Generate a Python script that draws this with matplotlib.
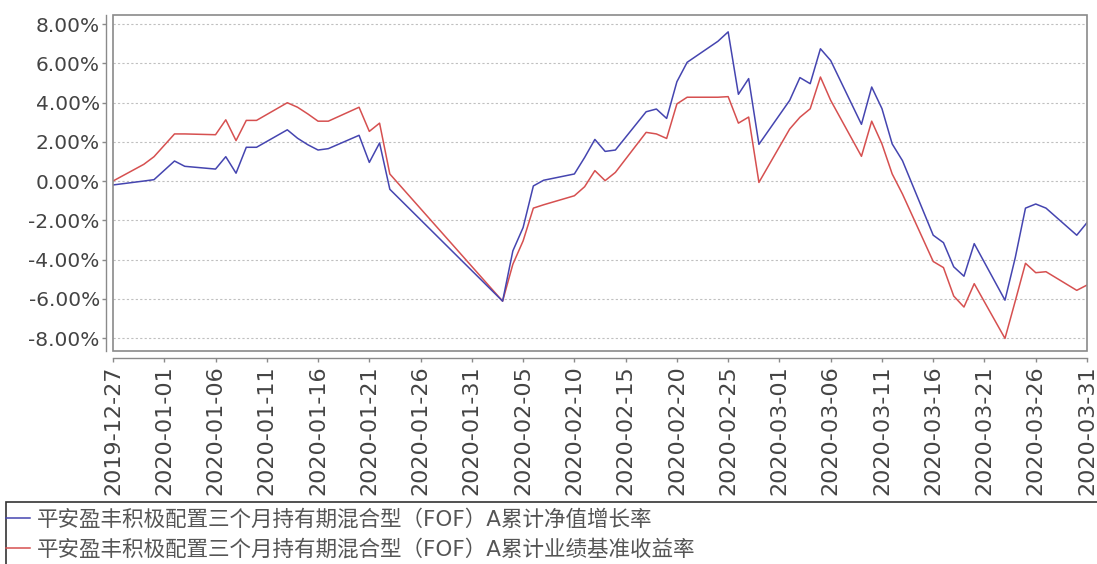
import matplotlib
matplotlib.use("Agg")
import numpy as np
import matplotlib.pyplot as plt
import matplotlib.dates as mdates
from matplotlib.patches import Rectangle
from matplotlib.ticker import FuncFormatter
from datetime import datetime, timedelta

plt.rcParams['font.family'] = ['DejaVu Sans']

# trading days
dates = ["2019-12-27", "2019-12-30", "2019-12-31",
         "2020-01-02", "2020-01-03", "2020-01-06", "2020-01-07", "2020-01-08",
         "2020-01-09", "2020-01-10", "2020-01-13", "2020-01-14", "2020-01-15",
         "2020-01-16", "2020-01-17", "2020-01-20", "2020-01-21", "2020-01-22",
         "2020-01-23", "2020-02-03", "2020-02-04", "2020-02-05", "2020-02-06",
         "2020-02-07", "2020-02-10", "2020-02-11", "2020-02-12", "2020-02-13",
         "2020-02-14", "2020-02-17", "2020-02-18", "2020-02-19", "2020-02-20",
         "2020-02-21", "2020-02-24", "2020-02-25", "2020-02-26", "2020-02-27",
         "2020-02-28", "2020-03-02", "2020-03-03", "2020-03-04", "2020-03-05",
         "2020-03-06", "2020-03-09", "2020-03-10", "2020-03-11", "2020-03-12",
         "2020-03-13", "2020-03-16", "2020-03-17", "2020-03-18", "2020-03-19",
         "2020-03-20", "2020-03-23", "2020-03-24", "2020-03-25", "2020-03-26",
         "2020-03-27", "2020-03-30", "2020-03-31"]

# 累计净值增长率 (%)
nav_growth = [-0.20, 0.00, 0.07,
              1.02, 0.75, 0.61, 1.24, 0.40,
              1.72, 1.72, 2.61, 2.18, 1.85,
              1.58, 1.65, 2.33, 0.95, 1.94,
              -0.42, -6.12, -3.56, -2.37, -0.25,
              0.04, 0.36, 1.20, 2.12, 1.51,
              1.58, 3.53, 3.67, 3.19, 5.06,
              6.05, 7.12, 7.60, 4.42, 5.22,
              1.87, 4.11, 5.27, 4.96, 6.74,
              6.14, 2.89, 4.79, 3.69, 1.89,
              1.04, -2.76, -3.14, -4.37, -4.85,
              -3.19, -6.07, -3.91, -1.38, -1.17,
              -1.38, -2.76, -2.12]

# 累计业绩基准收益率 (%)
bench = [0.00, 0.85, 1.24,
         2.40, 2.40, 2.36, 3.12, 2.06,
         3.09, 3.09, 3.99, 3.76, 3.42,
         3.05, 3.05, 3.76, 2.53, 2.95,
         0.36, -6.12, -4.24, -3.05, -1.38,
         -1.21, -0.75, -0.29, 0.53, 0.02,
         0.44, 2.48, 2.40, 2.17, 3.93,
         4.27, 4.27, 4.30, 2.95, 3.26,
         -0.07, 2.65, 3.25, 3.68, 5.30,
         4.11, 1.26, 3.05, 1.89, 0.36,
         -0.66, -4.10, -4.41, -5.86, -6.42,
         -5.23, -8.02, -6.12, -4.19, -4.67,
         -4.62, -5.57, -5.30]

labels = ["平安盈丰积极配置三个月持有期混合型（FOF）A累计净值增长率",
          "平安盈丰积极配置三个月持有期混合型（FOF）A累计业绩基准收益率"]

x = [datetime.strptime(d, "%Y-%m-%d") for d in dates]

W, H = 1097, 564
fig = plt.figure(figsize=(W / 100, H / 100), dpi=100)
ax = fig.add_axes([113 / W, (H - 351) / H, (1087 - 113) / W, (351 - 15) / H])

grey = "#8a8a8a"
l2, = ax.plot(x, bench, color="#d65050", lw=1.1, zorder=3)
l1, = ax.plot(x, nav_growth, color="#4545b0", lw=1.1, zorder=4)

start, end = datetime(2019, 12, 27), datetime(2020, 3, 31)
ax.set_xlim(start, end)
ax.set_ylim(-8.66, 8.46)

ticks = [start + timedelta(days=5 * i) for i in range(20)]
ax.set_xticks(ticks)
ax.xaxis.set_major_formatter(mdates.DateFormatter("%Y-%m-%d"))
ax.set_yticks(np.arange(-8, 9, 2))
ax.yaxis.set_major_formatter(FuncFormatter(lambda v, p: "%.2f%%" % v))

ax.grid(axis="y", color="#c0c0c0", linestyle=(0, (2, 2)), lw=0.8)

for s in ["top", "right"]:
    ax.spines[s].set_visible(False)
for s in ["left", "bottom"]:
    ax.spines[s].set_position(("outward", 5))
    ax.spines[s].set_color(grey)
    ax.spines[s].set_linewidth(1.0)
ax.add_patch(Rectangle((0, 0), 1, 1, transform=ax.transAxes, fill=False,
                       edgecolor=grey, lw=1.2, zorder=5, clip_on=False))

ax.tick_params(axis="y", colors=grey, labelcolor="#444444", labelsize=14.5,
               length=3, width=1, pad=1.5)
ax.tick_params(axis="x", colors=grey, labelcolor="#444444", labelsize=16,
               length=3, width=1, pad=2.5, labelrotation=90)

# legend box below the chart
fig.patches.append(Rectangle((6 / W, -0.05), 1.2, (H - 502) / H + 0.05,
                             transform=fig.transFigure, fill=False,
                             edgecolor="#333333", lw=1.2))
leg = fig.legend([l1, l2], labels, loc="upper left",
                 bbox_to_anchor=(4 / W, (H - 507) / H), frameon=False,
                 prop={"family": ["DejaVu Sans", "Noto Sans CJK SC"], "size": 15.5},
                 handlelength=1.1, handletextpad=0.35, labelspacing=0.4,
                 borderaxespad=0, borderpad=0.1)
for t in leg.get_texts():
    t.set_color("#555555")

fig.savefig("out.png", dpi=100)
